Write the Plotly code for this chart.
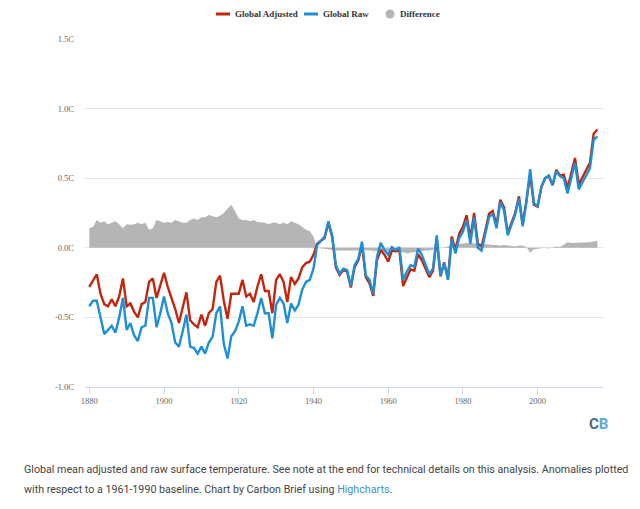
import plotly.graph_objects as go

# annual values, 1880-2016, degrees C vs 1961-1990 baseline
years = list(range(1880, 2017))

global_adjusted = [
    -0.28, -0.235, -0.19, -0.33, -0.405, -0.42, -0.37, -0.42, -0.35, -0.22,
    -0.42, -0.40, -0.46, -0.50, -0.405, -0.39, -0.245, -0.22, -0.36, -0.27,
    -0.18, -0.28, -0.36, -0.44, -0.54, -0.43, -0.32, -0.52, -0.55, -0.57,
    -0.48, -0.56, -0.47, -0.44, -0.245, -0.20, -0.38, -0.51, -0.33, -0.33,
    -0.33, -0.23, -0.35, -0.33, -0.39, -0.28, -0.19, -0.31, -0.31, -0.47,
    -0.23, -0.19, -0.245, -0.39, -0.21, -0.26, -0.22, -0.14, -0.11, -0.10,
    -0.05, 0.03, 0.05, 0.07, 0.18, 0.08, -0.14, -0.195, -0.16, -0.17,
    -0.285, -0.14, -0.09, 0.02, -0.21, -0.255, -0.345, -0.09, -0.015, -0.05,
    -0.10, -0.02, -0.025, -0.02, -0.275, -0.22, -0.155, -0.165, -0.045, -0.09,
    -0.15, -0.21, -0.165, 0.07, -0.205, -0.105, -0.22, 0.08, -0.015, 0.10,
    0.15, 0.235, 0.065, 0.25, 0.03, 0.01, 0.125, 0.245, 0.265, 0.16,
    0.345, 0.29, 0.105, 0.175, 0.25, 0.37, 0.17, 0.335, 0.53, 0.31,
    0.295, 0.435, 0.50, 0.515, 0.45, 0.56, 0.52, 0.525, 0.43, 0.535,
    0.645, 0.455, 0.505, 0.56, 0.61, 0.82, 0.85,
]

global_raw = [
    -0.42, -0.38, -0.38, -0.50, -0.62, -0.59, -0.56, -0.61, -0.50, -0.36,
    -0.59, -0.54, -0.63, -0.67, -0.57, -0.56, -0.36, -0.36, -0.57, -0.47,
    -0.35, -0.47, -0.54, -0.68, -0.71, -0.60, -0.48, -0.71, -0.72, -0.76,
    -0.71, -0.76, -0.68, -0.64, -0.47, -0.42, -0.69, -0.795, -0.635, -0.60,
    -0.53, -0.42, -0.56, -0.55, -0.56, -0.47, -0.36, -0.47, -0.47, -0.65,
    -0.41, -0.36, -0.40, -0.54, -0.40, -0.45, -0.41, -0.30, -0.245, -0.23,
    -0.15, 0.02, 0.05, 0.08, 0.19, 0.09, -0.125, -0.185, -0.15, -0.16,
    -0.275, -0.125, -0.08, 0.045, -0.20, -0.23, -0.33, -0.065, 0.035, -0.015,
    -0.05, 0.005, -0.015, 0.005, -0.23, -0.17, -0.125, -0.135, -0.005, -0.05,
    -0.12, -0.19, -0.15, 0.09, -0.20, -0.11, -0.23, 0.06, -0.04, 0.07,
    0.115, 0.20, 0.03, 0.22, 0.0, -0.02, 0.10, 0.22, 0.245, 0.14,
    0.33, 0.27, 0.09, 0.16, 0.24, 0.355, 0.155, 0.33, 0.565, 0.32,
    0.30, 0.44, 0.50, 0.52, 0.45, 0.55, 0.515, 0.50, 0.39, 0.50,
    0.61, 0.42, 0.47, 0.52, 0.57, 0.775, 0.80,
]

difference = [
    0.14, 0.15, 0.20, 0.18, 0.19, 0.17, 0.18, 0.19, 0.17, 0.14,
    0.17, 0.165, 0.17, 0.18, 0.17, 0.18, 0.13, 0.14, 0.20, 0.19,
    0.18, 0.185, 0.18, 0.20, 0.19, 0.18, 0.18, 0.20, 0.21, 0.20,
    0.22, 0.22, 0.235, 0.23, 0.22, 0.23, 0.25, 0.28, 0.31, 0.265,
    0.21, 0.20, 0.20, 0.19, 0.20, 0.185, 0.185, 0.18, 0.17, 0.18,
    0.18, 0.17, 0.18, 0.17, 0.19, 0.18, 0.17, 0.15, 0.13, 0.12,
    0.08, 0.0, -0.005, -0.01, -0.01, -0.015, -0.02, -0.02, -0.02, -0.015,
    -0.015, -0.02, -0.02, -0.025, -0.015, -0.02, -0.02, -0.025, -0.025, -0.03,
    -0.03, -0.025, -0.02, -0.025, -0.035, -0.04, -0.035, -0.03, -0.03, -0.025,
    -0.02, -0.02, -0.015, -0.01, -0.005, 0.005, 0.01, 0.02, 0.025, 0.03,
    0.035, 0.035, 0.035, 0.03, 0.03, 0.03, 0.025, 0.025, 0.02, 0.02,
    0.015, 0.02, 0.015, 0.015, 0.01, 0.015, 0.015, 0.005, -0.035, -0.01,
    -0.005, -0.005, 0.0, -0.005, 0.0, 0.01, 0.005, 0.025, 0.04, 0.035,
    0.035, 0.035, 0.035, 0.04, 0.04, 0.045, 0.05,
]

x_ticks = [1880, 1900, 1920, 1940, 1960, 1980, 2000]
y_ticks = [-1.0, -0.5, 0.0, 0.5, 1.0, 1.5]
y_tick_labels = ["-1.0C", "-0.5C", "0.0C", "0.5C", "1.0C", "1.5C"]

RED = "#c3260f"
BLUE = "#1e8fd6"
GREY = "#b5b5b5"
SERIF = "Liberation Serif, DejaVu Serif, serif"

# the page body has an 8px margin, so the figure is 16px smaller than the window
W, H = 624, 493
L, R, T, B = 77, 29, 31, 114
PLOT_W = W - L - R
PLOT_H = H - T - B


def px(x):
    # window pixel -> paper x
    return (x - 8 - L) / PLOT_W


def py(y):
    # window pixel -> paper y
    return (H - B - (y - 8)) / PLOT_H


fig = go.Figure()

fig.add_trace(go.Scatter(
    x=years, y=difference, mode="lines", fill="tozeroy", name="Difference",
    fillcolor=GREY, line=dict(width=0, color=GREY),
))
fig.add_trace(go.Scatter(
    x=years, y=global_adjusted, mode="lines", name="Global Adjusted",
    line=dict(color=RED, width=2.4),
))
fig.add_trace(go.Scatter(
    x=years, y=global_raw, mode="lines", name="Global Raw",
    line=dict(color=BLUE, width=2.4),
))

# highcharts-style legend row drawn by hand (plotly's legend keys are too wide)
legend_y = 14
legend_font = dict(family=SERIF, size=9, color="#333333", weight="bold")
shapes = [
    dict(type="line", xref="paper", yref="paper",
         x0=px(216), x1=px(230), y0=py(legend_y), y1=py(legend_y),
         line=dict(color=RED, width=3)),
    dict(type="line", xref="paper", yref="paper",
         x0=px(304), x1=px(318), y0=py(legend_y), y1=py(legend_y),
         line=dict(color=BLUE, width=3)),
    dict(type="circle", xref="paper", yref="paper",
         x0=px(385.5), x1=px(394.5), y0=py(legend_y + 4.5), y1=py(legend_y - 4.5),
         fillcolor=GREY, line=dict(width=0)),
]
annotations = [
    dict(text=name, xref="paper", yref="paper", x=px(x0), y=py(legend_y),
         xanchor="left", yanchor="middle", showarrow=False, font=legend_font)
    for name, x0 in [("Global Adjusted", 233), ("Global Raw", 321), ("Difference", 398)]
]

annotations.append(dict(
    text="<span style='color:#44698c'>C</span><span style='color:#5ea6dc'>B</span>",
    xref="paper", yref="paper", x=px(598), y=py(424),
    xanchor="center", yanchor="middle", showarrow=False,
    font=dict(family="Roboto, DejaVu Sans", size=15, weight="bold"),
))
caption_font = dict(family="Roboto, sans-serif", size=10.7, color="#444444")
annotations.append(dict(
    text="Global mean adjusted and raw surface temperature. See note at the end for technical details on this analysis. Anomalies plotted",
    xref="paper", yref="paper", x=px(22), y=py(470),
    xanchor="left", yanchor="middle", showarrow=False, font=caption_font,
))
annotations.append(dict(
    text="with respect to a 1961-1990 baseline. Chart by Carbon Brief using <span style='color:#3d8fd1'>Highcharts</span>.",
    xref="paper", yref="paper", x=px(22), y=py(489),
    xanchor="left", yanchor="middle", showarrow=False, font=caption_font,
))

fig.update_layout(
    width=W, height=H,
    margin=dict(l=L, r=R, t=T, b=B, autoexpand=False),
    paper_bgcolor="white", plot_bgcolor="white",
    hovermode=False, showlegend=False,
    shapes=shapes, annotations=annotations,
)

fig.update_xaxes(
    range=[1878.85, 2017.5], tickvals=x_ticks,
    showgrid=False, zeroline=False, automargin=False,
    showline=True, linecolor="#ccd6eb", linewidth=1,
    ticks="outside", ticklen=6, tickcolor="#ccd6eb",
    tickfont=dict(family=SERIF, size=8.5, color="#666666"),
)
fig.update_yaxes(
    range=[-1.0, 1.5], tickvals=y_ticks, ticktext=y_tick_labels,
    showgrid=True, gridcolor="#e6e6e6", gridwidth=1, zeroline=False,
    showline=False, ticks="", ticklabelstandoff=10, automargin=False,
    tickfont=dict(family=SERIF, size=8.5, color="#666666"),
)

fig.write_html("out.html")
